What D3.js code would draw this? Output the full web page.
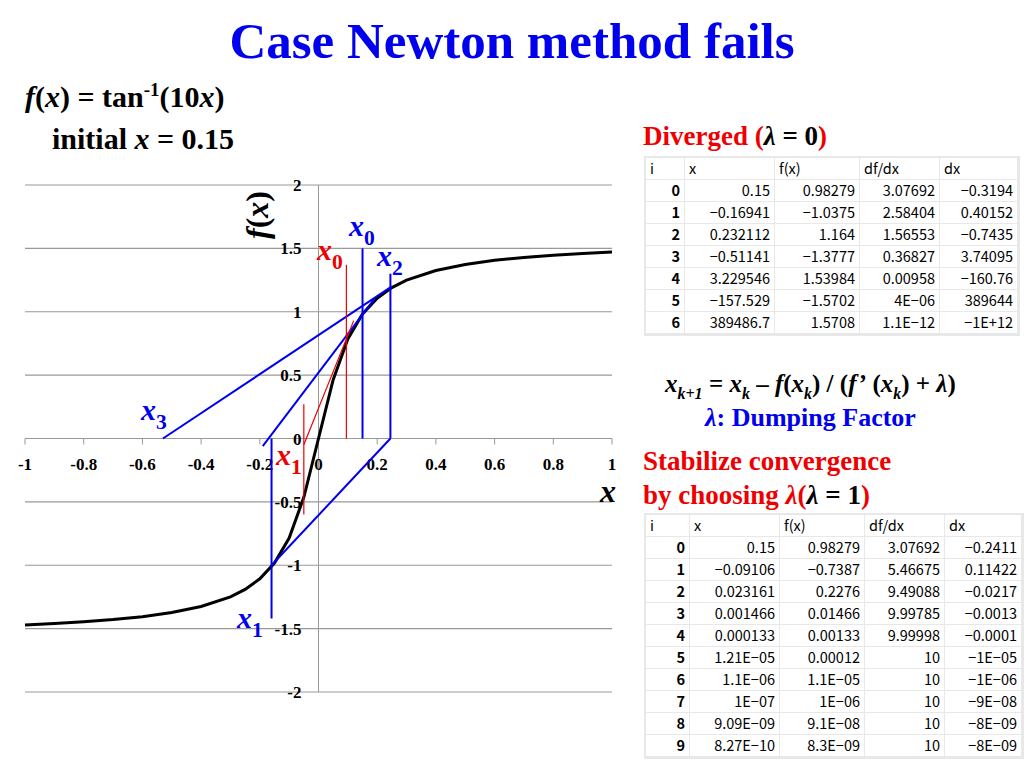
<!DOCTYPE html>
<html><head><meta charset="utf-8">
<script src="https://cdn.jsdelivr.net/npm/d3@7"></script>
<style>
body{margin:0;background:#fff}
svg text{font-family:"Liberation Serif","Times New Roman",serif}
svg g.tbl text{font-family:"Noto Sans CJK JP","Noto Sans",sans-serif}
</style></head><body>
<svg id="chart" width="1024" height="768"></svg>
<script>
// f(x) = atan(10x) sampled values
const curveX = [-1,-0.9,-0.8,-0.7,-0.6,-0.5,-0.4,-0.3,-0.25,-0.2,-0.15,-0.1,-0.05,0,0.05,0.1,0.15,0.2,0.25,0.3,0.4,0.5,0.6,0.7,0.8,0.9,1];
const curveY = [-1.4711,-1.4601,-1.4464,-1.4289,-1.4056,-1.3734,-1.3258,-1.2490,-1.1903,-1.1071,-0.9828,-0.7854,-0.4636,0,0.4636,0.7854,0.9828,1.1071,1.1903,1.2490,1.3258,1.3734,1.4056,1.4289,1.4464,1.4601,1.4711];
const xTicks = [-1,-0.8,-0.6,-0.4,-0.2,0,0.2,0.4,0.6,0.8,1];
const yTicks = [-2,-1.5,-1,-0.5,0,0.5,1,1.5,2];
// construction segments [x1,y1,x2,y2]
const blueSegs = [[0.15,0,0.15,1.5],[-0.19,-0.06,0.19,1.1],[-0.16,0,-0.16,-1.42],[-0.16,-1.0,0.245,0],[0.245,0,0.245,1.3],[-0.53,0,0.25,1.2]];
const redSegs = [[0.095,0,0.095,1.37],[-0.05,-0.05,0.12,0.93],[-0.05,0.27,-0.05,-0.6]];
const tableHead = ["i","x","f(x)","df/dx","dx"];
const table1 = [
 ["0","0.15","0.98279","3.07692","−0.3194"],
 ["1","−0.16941","−1.0375","2.58404","0.40152"],
 ["2","0.232112","1.164","1.56553","−0.7435"],
 ["3","−0.51141","−1.3777","0.36827","3.74095"],
 ["4","3.229546","1.53984","0.00958","−160.76"],
 ["5","−157.529","−1.5702","4E−06","389644"],
 ["6","389486.7","1.5708","1.1E−12","−1E+12"]];
const table2 = [
 ["0","0.15","0.98279","3.07692","−0.2411"],
 ["1","−0.09106","−0.7387","5.46675","0.11422"],
 ["2","0.023161","0.2276","9.49088","−0.0217"],
 ["3","0.001466","0.01466","9.99785","−0.0013"],
 ["4","0.000133","0.00133","9.99998","−0.0001"],
 ["5","1.21E−05","0.00012","10","−1E−05"],
 ["6","1.1E−06","1.1E−05","10","−1E−06"],
 ["7","1E−07","1E−06","10","−9E−08"],
 ["8","9.09E−09","9.1E−08","10","−8E−09"],
 ["9","8.27E−10","8.3E−09","10","−8E−09"]];

const svg = d3.select("#chart");
const x = d3.scaleLinear().domain([-1,1]).range([25,612]);
const y = d3.scaleLinear().domain([-2,2]).range([692,185]);

// gridlines
svg.append("g").selectAll("line").data(yTicks).join("line")
  .attr("x1",25).attr("x2",612).attr("y1",d=>y(d)).attr("y2",d=>y(d))
  .attr("stroke","#999").attr("stroke-width",1.2);
svg.append("line").attr("x1",x(0)).attr("x2",x(0)).attr("y1",y(2)).attr("y2",y(-2)).attr("stroke","#999");
svg.append("g").selectAll("line").data(xTicks).join("line")
  .attr("x1",d=>x(d)).attr("x2",d=>x(d)).attr("y1",y(0)).attr("y2",y(0)+6).attr("stroke","#999");

svg.append("g").selectAll("text").data(xTicks).join("text")
  .attr("x",d=>x(d)).attr("y",y(0)+31).attr("text-anchor","middle")
  .attr("font-size",17).attr("font-weight","bold").text(d=>d);
svg.append("g").selectAll("text").data(yTicks).join("text")
  .attr("x",x(0)-17).attr("y",d=>y(d)+6).attr("text-anchor","end")
  .attr("font-size",17).attr("font-weight","bold").text(d=>d);

// curve
svg.append("path").datum(d3.zip(curveX,curveY))
  .attr("d",d3.line().x(d=>x(d[0])).y(d=>y(d[1])))
  .attr("fill","none").attr("stroke","#000").attr("stroke-width",3);

svg.append("g").selectAll("line").data(blueSegs).join("line")
  .attr("x1",d=>x(d[0])).attr("y1",d=>y(d[1])).attr("x2",d=>x(d[2])).attr("y2",d=>y(d[3]))
  .attr("stroke","#0000ee").attr("stroke-width",2);
svg.append("g").selectAll("line").data(redSegs).join("line")
  .attr("x1",d=>x(d[0])).attr("y1",d=>y(d[1])).attr("x2",d=>x(d[2])).attr("y2",d=>y(d[3]))
  .attr("stroke","#e00").attr("stroke-width",1.2);

// point labels
function sub(xp,yp,n,color,fs){
  const t=svg.append("text").attr("x",xp).attr("y",yp).attr("fill",color)
    .attr("font-size",fs||30).attr("font-weight","bold");
  t.append("tspan").attr("font-style","italic").text("x");
  t.append("tspan").attr("dy",9).attr("font-size",(fs||30)*0.72).text(n);
}
sub(349,236,"0","#0000ee");
sub(317,260,"0","#e00");
sub(377,266,"2","#0000ee");
sub(141,420,"3","#0000ee");
sub(276,465,"1","#e00");
sub(237,628,"1","#0000ee");

svg.append("text").attr("transform","translate(268,215) rotate(-90)").attr("text-anchor","middle")
  .attr("font-size",32).attr("font-weight","bold").html('<tspan font-style="italic">f</tspan>(<tspan font-style="italic">x</tspan>)');
svg.append("text").attr("x",600).attr("y",502).attr("font-size",32).attr("font-weight","bold").attr("font-style","italic").text("x");

// titles
svg.append("text").attr("x",512).attr("y",58).attr("text-anchor","middle").attr("fill","#0000ee")
  .attr("font-size",51).attr("font-weight","bold").text("Case Newton method fails");
svg.append("text").attr("x",25).attr("y",107).attr("font-size",30).attr("font-weight","bold")
  .html('<tspan font-style="italic">f</tspan>(<tspan font-style="italic">x</tspan>) = tan<tspan dy="-11" font-size="19">-1</tspan><tspan dy="11">(10</tspan><tspan font-style="italic">x</tspan>)');
svg.append("text").attr("x",52).attr("y",149).attr("font-size",30).attr("font-weight","bold")
  .html('initial <tspan font-style="italic">x</tspan> = 0.15');
svg.append("text").attr("x",643).attr("y",145).attr("font-size",27).attr("font-weight","bold").attr("fill","#e00")
  .html('Diverged (<tspan font-style="italic" fill="#000">λ</tspan><tspan fill="#000"> = 0</tspan>)');
svg.append("text").attr("x",665).attr("y",392).attr("font-size",25).attr("font-weight","bold")
  .html('<tspan font-style="italic">x</tspan><tspan dy="7" font-size="16" font-style="italic">k+1</tspan><tspan dy="-7"> = </tspan><tspan font-style="italic">x</tspan><tspan dy="7" font-size="16" font-style="italic">k</tspan><tspan dy="-7"> – </tspan><tspan font-style="italic">f</tspan>(<tspan font-style="italic">x</tspan><tspan dy="7" font-size="16" font-style="italic">k</tspan><tspan dy="-7">) / (</tspan><tspan font-style="italic">f’</tspan> (<tspan font-style="italic">x</tspan><tspan dy="7" font-size="16" font-style="italic">k</tspan><tspan dy="-7">) + </tspan><tspan font-style="italic">λ</tspan>)');
svg.append("text").attr("x",705).attr("y",426).attr("font-size",26).attr("font-weight","bold").attr("fill","#0000ee")
  .html('<tspan font-style="italic">λ</tspan>: Dumping Factor');
svg.append("text").attr("x",643).attr("y",470).attr("font-size",27).attr("font-weight","bold").attr("fill","#e00")
  .text("Stabilize convergence");
svg.append("text").attr("x",643).attr("y",504).attr("font-size",27).attr("font-weight","bold").attr("fill","#e00")
  .html('by choosing <tspan font-style="italic">λ</tspan>(<tspan font-style="italic" fill="#000">λ</tspan><tspan fill="#000"> = 1</tspan>)');

// tables
function drawTable(x0,y0,colX,rows){
  const rh=22, all=[tableHead].concat(rows);
  const g=svg.append("g").attr("class","tbl");
  g.append("rect").attr("x",x0-2).attr("y",y0-2).attr("width",colX[colX.length-1]-x0+4).attr("height",all.length*rh+4).attr("fill","#e8e8e8");
  all.forEach((r,i)=>{
    r.forEach((c,j)=>{
      const cx=colX[j], w=colX[j+1]-colX[j];
      g.append("rect").attr("x",cx).attr("y",y0+i*rh).attr("width",w-1).attr("height",rh-1).attr("fill","#fff");
      g.append("text").attr("x",i===0?cx+4:cx+w-5).attr("y",y0+i*rh+16)
        .attr("text-anchor",i===0?"start":"end").attr("font-size",14.5)
        .attr("font-weight",(j===0&&i>0)?"bold":"normal").text(c);
    });
  });
}
drawTable(646,158,[646,685,775,860,940,1018],table1);
drawTable(646,515,[646,690,780,865,945,1022],table2);
</script></body></html>
